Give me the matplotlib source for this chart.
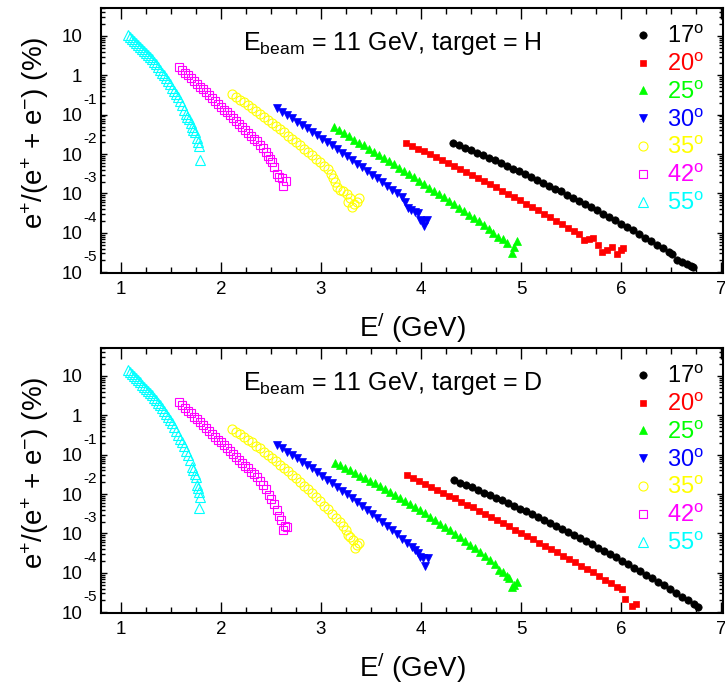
import numpy as np
import matplotlib
matplotlib.use('Agg')
import matplotlib.pyplot as plt
from matplotlib.ticker import MultipleLocator, LogLocator, NullFormatter

plt.rcParams['font.family'] = ['Liberation Sans', 'DejaVu Sans']
plt.rcParams['mathtext.fontset'] = 'custom'
plt.rcParams['mathtext.rm'] = 'Liberation Sans'
plt.rcParams['mathtext.it'] = 'Liberation Sans:italic'
plt.rcParams['mathtext.bf'] = 'Liberation Sans:bold'

# angulos y estilos
angles = ['17', '20', '25', '30', '35', '42', '55']
colors = ['black', '#ff0000', '#00ff00', '#0000ff', '#ffff00', '#ff00ff', '#00ffff']
markers = ['o', 's', '^', 'v', 'o', 's', '^']
filled = [True, True, True, True, False, False, False]
msizes = [5.3, 5.0, 6.0, 6.0, 6.5, 6.0, 6.5]

# ---- target = H : E' (GeV) y log10 de e+/(e+ + e-) (%) ----
h17_e = [4.32, 4.38, 4.44, 4.50, 4.56, 4.62, 4.68, 4.74, 4.80, 4.86, 4.92, 4.98, 5.04, 5.10,
         5.16, 5.22, 5.28, 5.34, 5.40, 5.46, 5.52, 5.58, 5.64, 5.70, 5.76, 5.82, 5.88, 5.94,
         6.00, 6.06, 6.12, 6.18, 6.24, 6.30, 6.36, 6.42, 6.48, 6.51, 6.56, 6.61, 6.66, 6.70, 6.72]
h17_lg = [-1.72, -1.78, -1.84, -1.90, -1.97, -2.03, -2.10, -2.16, -2.23, -2.30, -2.37, -2.44,
          -2.51, -2.58, -2.65, -2.73, -2.80, -2.88, -2.95, -3.03, -3.11, -3.19, -3.27, -3.35,
          -3.43, -3.51, -3.60, -3.68, -3.77, -3.85, -3.94, -4.03, -4.12, -4.21, -4.30, -4.39,
          -4.49, -4.55, -4.70, -4.74, -4.78, -4.83, -4.88]

h20_e = [3.85, 3.91, 3.97, 4.03, 4.09, 4.15, 4.21, 4.27, 4.33, 4.39, 4.45, 4.51, 4.57, 4.63,
         4.69, 4.75, 4.81, 4.87, 4.93, 4.99, 5.05, 5.11, 5.17, 5.23, 5.29, 5.35, 5.41, 5.47,
         5.53, 5.58, 5.63, 5.68, 5.72, 5.77, 5.81, 5.86, 5.91, 5.96, 6.00, 6.02]
h20_lg = [-1.72, -1.79, -1.86, -1.93, -2.00, -2.07, -2.15, -2.22, -2.30, -2.37, -2.45, -2.53,
          -2.61, -2.68, -2.76, -2.84, -2.93, -3.01, -3.09, -3.17, -3.26, -3.34, -3.43, -3.52,
          -3.60, -3.69, -3.78, -3.87, -3.96, -4.02, -4.17, -4.15, -4.14, -4.32, -4.48, -4.44,
          -4.36, -4.55, -4.43, -4.38]

h25_e = [3.13, 3.18, 3.23, 3.28, 3.33, 3.38, 3.43, 3.48, 3.53, 3.58, 3.63, 3.68, 3.73, 3.78,
         3.83, 3.88, 3.93, 3.98, 4.03, 4.08, 4.13, 4.18, 4.23, 4.28, 4.33, 4.38, 4.43, 4.48,
         4.53, 4.58, 4.63, 4.68, 4.72, 4.77, 4.82, 4.86, 4.91, 4.93, 4.96]
h25_lg = [-1.32, -1.40, -1.47, -1.55, -1.63, -1.71, -1.78, -1.86, -1.94, -2.02, -2.10, -2.18,
          -2.26, -2.35, -2.43, -2.51, -2.59, -2.68, -2.76, -2.85, -2.93, -3.02, -3.10, -3.19,
          -3.27, -3.36, -3.45, -3.54, -3.62, -3.71, -3.80, -3.89, -4.01, -4.10, -4.15, -4.26,
          -4.52, -4.37, -4.21]

h30_e = [2.56, 2.61, 2.66, 2.71, 2.76, 2.81, 2.86, 2.91, 2.96, 3.01, 3.06, 3.11, 3.16, 3.21,
         3.26, 3.31, 3.36, 3.41, 3.46, 3.51, 3.56, 3.61, 3.66, 3.71, 3.76, 3.81, 3.84, 3.87,
         3.90, 3.94, 3.97, 3.99, 4.02, 4.03, 4.06]
h30_lg = [-0.84, -0.92, -1.01, -1.09, -1.18, -1.26, -1.35, -1.43, -1.52, -1.61, -1.70, -1.78,
          -1.87, -1.96, -2.05, -2.15, -2.24, -2.33, -2.42, -2.52, -2.61, -2.70, -2.80, -2.90,
          -2.99, -3.09, -3.22, -3.36, -3.42, -3.47, -3.50, -3.68, -3.70, -3.82, -3.68]

h35_e = [2.11, 2.15, 2.19, 2.23, 2.27, 2.31, 2.35, 2.39, 2.43, 2.47, 2.51, 2.55, 2.59, 2.63,
         2.67, 2.71, 2.75, 2.79, 2.83, 2.87, 2.91, 2.95, 2.99, 3.03, 3.07, 3.10, 3.12, 3.14,
         3.16, 3.19, 3.22, 3.26, 3.27, 3.29, 3.31, 3.33, 3.36, 3.38]
h35_lg = [-0.48, -0.55, -0.62, -0.69, -0.76, -0.83, -0.91, -0.98, -1.06, -1.13, -1.21, -1.29,
          -1.37, -1.45, -1.53, -1.61, -1.69, -1.78, -1.86, -1.95, -2.03, -2.12, -2.21, -2.30,
          -2.39, -2.50, -2.62, -2.70, -2.84, -2.90, -2.93, -3.02, -3.22, -3.12, -3.35, -3.28,
          -3.22, -3.12]

h42_e = [1.58, 1.61, 1.64, 1.67, 1.70, 1.73, 1.76, 1.79, 1.82, 1.85, 1.88, 1.91, 1.94, 1.97,
         2.00, 2.03, 2.06, 2.09, 2.12, 2.15, 2.18, 2.21, 2.24, 2.27, 2.30, 2.33, 2.36, 2.39,
         2.42, 2.45, 2.47, 2.49, 2.51, 2.53, 2.56, 2.58, 2.61, 2.62, 2.65]
h42_lg = [0.21, 0.14, 0.07, 0.00, -0.07, -0.14, -0.22, -0.29, -0.36, -0.43, -0.50, -0.58,
          -0.65, -0.72, -0.80, -0.87, -0.94, -1.01, -1.09, -1.16, -1.24, -1.31, -1.39, -1.46,
          -1.53, -1.61, -1.68, -1.76, -1.85, -1.95, -2.05, -2.12, -2.20, -2.32, -2.50, -2.58,
          -2.62, -2.80, -2.68]

h55_e = [1.07, 1.09, 1.11, 1.13, 1.15, 1.17, 1.19, 1.21, 1.23, 1.25, 1.27, 1.29, 1.31, 1.33,
         1.35, 1.37, 1.39, 1.41, 1.43, 1.45, 1.47, 1.49, 1.51, 1.53, 1.55, 1.57, 1.59, 1.61,
         1.63, 1.65, 1.66, 1.68, 1.70, 1.71, 1.72, 1.74, 1.76, 1.77, 1.78, 1.79]
h55_lg = [1.03, 0.98, 0.93, 0.88, 0.83, 0.77, 0.72, 0.67, 0.62, 0.57, 0.52, 0.47, 0.41, 0.34,
          0.28, 0.21, 0.14, 0.07, 0.00, -0.08, -0.15, -0.23, -0.31, -0.39, -0.47, -0.55, -0.65,
          -0.76, -0.88, -0.98, -1.06, -1.10, -1.21, -1.30, -1.39, -1.45, -1.60, -1.70, -1.80,
          -2.16]

# ---- target = D ----
d17_e = [4.33, 4.39, 4.45, 4.51, 4.57, 4.63, 4.69, 4.75, 4.81, 4.87, 4.93, 4.99, 5.05, 5.11,
         5.17, 5.23, 5.29, 5.35, 5.41, 5.47, 5.53, 5.59, 5.65, 5.71, 5.77, 5.83, 5.89, 5.95,
         6.01, 6.07, 6.13, 6.19, 6.25, 6.31, 6.37, 6.43, 6.49, 6.55, 6.61, 6.67, 6.73, 6.77]
d17_lg = [-1.65, -1.71, -1.77, -1.83, -1.90, -1.96, -2.03, -2.09, -2.16, -2.23, -2.30, -2.37,
          -2.44, -2.51, -2.58, -2.66, -2.73, -2.81, -2.88, -2.96, -3.04, -3.12, -3.20, -3.28,
          -3.36, -3.44, -3.53, -3.61, -3.70, -3.78, -3.87, -3.96, -4.05, -4.14, -4.23, -4.32,
          -4.42, -4.51, -4.61, -4.70, -4.80, -4.86]

d20_e = [3.86, 3.92, 3.98, 4.04, 4.10, 4.16, 4.22, 4.28, 4.34, 4.40, 4.46, 4.52, 4.58, 4.64,
         4.70, 4.76, 4.82, 4.88, 4.94, 5.00, 5.06, 5.12, 5.18, 5.24, 5.30, 5.36, 5.42, 5.48,
         5.54, 5.60, 5.66, 5.72, 5.78, 5.84, 5.90, 5.96, 6.01, 6.04, 6.11, 6.15]
d20_lg = [-1.52, -1.59, -1.67, -1.74, -1.81, -1.89, -1.96, -2.04, -2.11, -2.19, -2.27, -2.34,
          -2.42, -2.50, -2.58, -2.66, -2.74, -2.82, -2.90, -2.98, -3.06, -3.14, -3.23, -3.31,
          -3.39, -3.48, -3.56, -3.65, -3.73, -3.82, -3.91, -3.99, -4.08, -4.17, -4.26, -4.35,
          -4.42, -4.66, -4.85, -4.78]

d25_e = [3.14, 3.19, 3.24, 3.29, 3.34, 3.39, 3.44, 3.49, 3.54, 3.59, 3.64, 3.69, 3.74, 3.79,
         3.84, 3.89, 3.94, 3.99, 4.04, 4.09, 4.14, 4.19, 4.24, 4.29, 4.34, 4.39, 4.44, 4.49,
         4.54, 4.59, 4.64, 4.69, 4.74, 4.78, 4.82, 4.86, 4.88, 4.91, 4.93, 4.96]
d25_lg = [-1.21, -1.27, -1.33, -1.40, -1.46, -1.53, -1.59, -1.66, -1.73, -1.80, -1.87, -1.95,
          -2.02, -2.10, -2.17, -2.25, -2.33, -2.41, -2.49, -2.58, -2.66, -2.75, -2.83, -2.92,
          -3.01, -3.10, -3.19, -3.29, -3.38, -3.48, -3.57, -3.67, -3.77, -3.93, -3.99, -4.08,
          -4.12, -4.37, -4.30, -4.22]

d30_e = [2.56, 2.61, 2.66, 2.71, 2.76, 2.81, 2.86, 2.91, 2.96, 3.01, 3.06, 3.11, 3.16, 3.21,
         3.26, 3.31, 3.36, 3.41, 3.46, 3.51, 3.56, 3.61, 3.66, 3.71, 3.76, 3.81, 3.86, 3.91,
         3.94, 3.97, 3.99, 4.02, 4.04, 4.07]
d30_lg = [-0.75, -0.83, -0.92, -1.00, -1.09, -1.18, -1.26, -1.35, -1.44, -1.53, -1.63, -1.72,
          -1.81, -1.91, -2.00, -2.10, -2.20, -2.30, -2.40, -2.50, -2.60, -2.70, -2.81, -2.91,
          -3.02, -3.13, -3.23, -3.34, -3.41, -3.50, -3.60, -3.63, -3.83, -3.63]

d35_e = [2.11, 2.15, 2.19, 2.23, 2.27, 2.31, 2.35, 2.39, 2.43, 2.47, 2.51, 2.55, 2.59, 2.63,
         2.67, 2.71, 2.75, 2.79, 2.83, 2.87, 2.91, 2.95, 2.99, 3.03, 3.07, 3.11, 3.15, 3.19,
         3.22, 3.25, 3.27, 3.29, 3.32, 3.34, 3.36, 3.38]
d35_lg = [-0.35, -0.42, -0.48, -0.55, -0.62, -0.69, -0.77, -0.84, -0.92, -1.00, -1.08, -1.16,
          -1.25, -1.33, -1.42, -1.51, -1.60, -1.69, -1.79, -1.88, -1.98, -2.08, -2.18, -2.29,
          -2.39, -2.50, -2.61, -2.72, -2.80, -2.90, -3.05, -3.10, -3.17, -3.38, -3.30, -3.25]

d42_e = [1.58, 1.61, 1.64, 1.67, 1.70, 1.73, 1.76, 1.79, 1.82, 1.85, 1.88, 1.91, 1.94, 1.97,
         2.00, 2.03, 2.06, 2.09, 2.12, 2.15, 2.18, 2.21, 2.24, 2.27, 2.30, 2.33, 2.36, 2.39,
         2.42, 2.45, 2.48, 2.50, 2.53, 2.56, 2.58, 2.60, 2.62, 2.64, 2.66]
d42_lg = [0.34, 0.27, 0.19, 0.12, 0.05, -0.03, -0.10, -0.17, -0.25, -0.32, -0.40, -0.47,
          -0.54, -0.62, -0.69, -0.76, -0.84, -0.91, -0.98, -1.06, -1.13, -1.20, -1.28, -1.35,
          -1.43, -1.50, -1.57, -1.66, -1.76, -1.88, -2.02, -2.12, -2.25, -2.41, -2.55, -2.66,
          -2.92, -2.80, -2.84]

d55_e = [1.07, 1.09, 1.11, 1.13, 1.15, 1.17, 1.19, 1.21, 1.23, 1.25, 1.27, 1.29, 1.31, 1.33,
         1.35, 1.37, 1.39, 1.41, 1.43, 1.45, 1.47, 1.49, 1.51, 1.53, 1.55, 1.57, 1.59, 1.61,
         1.63, 1.65, 1.67, 1.69, 1.71, 1.72, 1.74, 1.75, 1.76, 1.77, 1.78, 1.79, 1.78]
d55_lg = [1.15, 1.10, 1.05, 1.00, 0.94, 0.89, 0.84, 0.78, 0.73, 0.68, 0.62, 0.57, 0.51, 0.44,
          0.38, 0.32, 0.25, 0.18, 0.11, 0.04, -0.03, -0.11, -0.20, -0.29, -0.39, -0.49, -0.59,
          -0.69, -0.79, -0.90, -1.01, -1.14, -1.30, -1.39, -1.48, -1.56, -1.77, -1.85, -1.95,
          -2.08, -2.36]

h_series = [(h17_e, h17_lg), (h20_e, h20_lg), (h25_e, h25_lg), (h30_e, h30_lg),
            (h35_e, h35_lg), (h42_e, h42_lg), (h55_e, h55_lg)]
d_series = [(d17_e, d17_lg), (d20_e, d20_lg), (d25_e, d25_lg), (d30_e, d30_lg),
            (d35_e, d35_lg), (d42_e, d42_lg), (d55_e, d55_lg)]

fig = plt.figure(figsize=(7.25, 6.88), dpi=100)
ax_h = fig.add_axes([0.1393, 0.6032, 0.858, 0.3852])
ax_d = fig.add_axes([0.1393, 0.1090, 0.858, 0.3852])


def draw_panel(ax, series, target):
    for (e, lg), ang, c, m, f, ms in zip(series, angles, colors, markers, filled, msizes):
        y = 10.0 ** np.array(lg)
        ax.plot(e, y, linestyle='none', marker=m, ms=ms, color=c,
                mfc=c if f else 'none', mec=c, mew=0.8 if not f else 0.5,
                label=r'%s$^{\mathrm{o}}$' % ang)
    ax.set_yscale('log')
    ax.set_xlim(0.8, 7.02)
    ax.set_ylim(10 ** -5.02, 10 ** 1.71)

    ax.xaxis.set_major_locator(MultipleLocator(1))
    ax.xaxis.set_minor_locator(MultipleLocator(0.25))
    decades = [10.0 ** k for k in range(-5, 2)]
    ax.set_yticks(decades)
    ax.set_yticklabels(['10', '10', '10', '10', '10', '1', '10'])
    ax.yaxis.set_minor_locator(LogLocator(base=10, subs=np.arange(2, 10), numticks=30))
    ax.yaxis.set_minor_formatter(NullFormatter())

    ax.tick_params(which='both', direction='in', top=True, right=True, width=1.0)
    ax.tick_params(axis='x', which='major', length=8, labelsize=13.5, pad=6)
    ax.tick_params(axis='x', which='minor', length=4.3)
    ax.tick_params(axis='y', which='major', length=4.5, labelsize=13.5, pad=13.5)
    ax.tick_params(axis='y', which='minor', length=3)
    for s in ax.spines.values():
        s.set_linewidth(1.5)

    # exponentes de las etiquetas del eje y
    for k in range(-5, 0):
        ax.annotate(str(k), xy=(0, 10.0 ** k), xycoords=ax.get_yaxis_transform(),
                    xytext=(-13, 10.8), textcoords='offset points',
                    ha='left', va='center', fontsize=11)

    ax.set_xlabel(r'E$^{/}$ (GeV)', fontsize=20, labelpad=9)
    ax.set_ylabel(r'e$^{+}$/(e$^{+}$ + e$^{-}$) (%)', fontsize=20)
    ax.yaxis.set_label_coords(-0.08, 0.53)

    ax.text(0.228, 0.842, r'E$_{\mathrm{beam}}$ = 11 GeV, target = ' + target,
            transform=ax.transAxes, fontsize=18, va='baseline')

    ax.legend(loc='upper left', bbox_to_anchor=(0.856, 0.933), frameon=False,
              fontsize=17, labelcolor='linecolor', handlelength=0.8,
              handletextpad=0.6, labelspacing=0.24, borderaxespad=0, borderpad=0,
              markerscale=1.0)


draw_panel(ax_h, h_series, 'H')
draw_panel(ax_d, d_series, 'D')

plt.savefig('out.png', dpi=100)
